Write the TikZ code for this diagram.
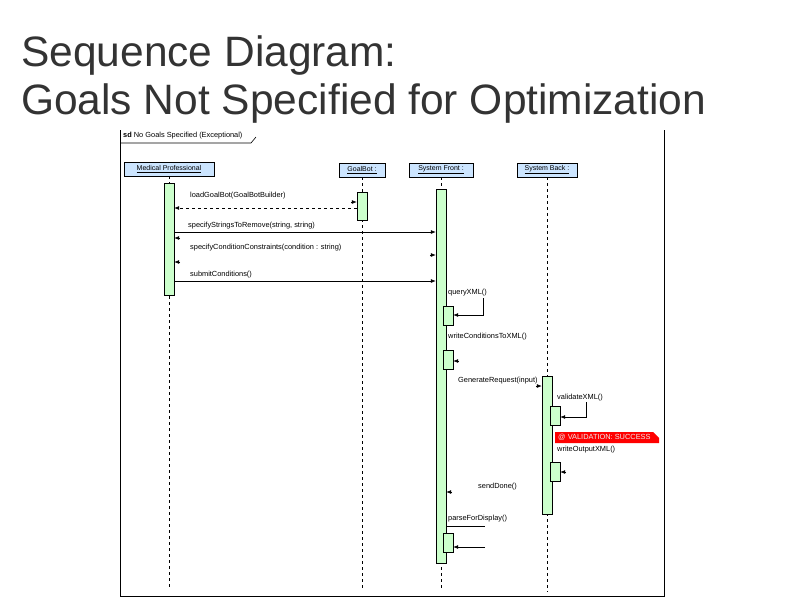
\documentclass[tikz,border=0pt]{standalone}
\usepackage{fontspec}
\setmainfont{Liberation Sans}
\usepackage{xcolor}
\usepackage{tikz}
\usetikzlibrary{positioning, calc, arrows.meta}
\definecolor{sqhead}{HTML}{CCE5FF}
\definecolor{sqbar}{HTML}{CCFFCC}
\definecolor{sqred}{HTML}{FF0000}
\definecolor{sqtitle}{HTML}{333333}

\begin{document}
\begin{tikzpicture}[x=1pt, y=-1pt,
    head/.style={rectangle, draw, fill=sqhead, font=\fontsize{7}{8}\selectfont,
          inner sep=0pt, minimum height=14pt},
    bar/.style={rectangle, draw, fill=sqbar, inner sep=0pt, minimum width=10pt},
    msglabel/.style={anchor=west, font=\fontsize{7.4}{8}\selectfont, inner sep=0pt},
    msg/.style={-{Latex[length=5pt,width=4pt]}, line width=0.7pt},
    reply/.style={msg, dashed},
    lifeline/.style={dashed, line width=0.6pt}]
  \useasboundingbox (0,0) rectangle (800,600);

  % title
  \node[anchor=base west, inner sep=0pt, text=sqtitle,
        font=\fontsize{42.5}{50}\selectfont] (title1) at (21,66) {Sequence Diagram:};
  \node[anchor=base west, inner sep=0pt, text=sqtitle,
        font=\fontsize{42.5}{50}\selectfont] (title2) at (21,114) {Goals Not Specified for Optimization};

  % frame
  \draw[line width=1pt] (120,130) -- (120,596) -- (664,596) -- (664,130);
  \node[msglabel] (sd) at (123,136) {\textbf{sd} No Goals Specified (Exceptional)};
  \draw[line width=0.6pt] (120,143) -- (251,143) -- (256,137);

  % lifeline heads
  \node[head, minimum width=90pt] (mp) at (169,169) {\underline{Medical Professional}};
  \node[head, minimum width=46pt] (gb) at (362,170) {\underline{GoalBot :}};
  \node[head, minimum width=64pt] (sf) at (441,170) {\underline{System Front :}};
  \node[head, minimum width=60pt] (sb) at (547,170) {\underline{System Back :}};

  \draw[lifeline] (mp.south) -- (mp.south |- 0,588);
  \draw[lifeline] (gb.south) -- (gb.south |- 0,588);
  \draw[lifeline] (sf.south) -- (sf.south |- 0,590);
  \draw[lifeline] (sb.south) -- (sb.south |- 0,592);

  % activations
  \node[bar, minimum height=112pt] (mpbar) at (169,239) {};
  \node[bar, minimum height=28pt] (gbbar) at (362,206) {};
  \node[bar, minimum height=374pt] (sfbar) at (441,376) {};
  \node[bar, minimum height=19pt] (sfq) at (448,315.5) {};
  \node[bar, minimum height=19pt] (sfw) at (448,359.5) {};
  \node[bar, minimum height=19pt] (sfp) at (448,542.5) {};
  \node[bar, minimum height=138pt] (sbbar) at (547,445) {};
  \node[bar, minimum height=19pt] (sbv) at (555,415.5) {};
  \node[bar, minimum height=19pt] (sbw) at (555,471.5) {};

  % messages
  \node[msglabel] (m1) at (190,196) {loadGoalBot(GoalBotBuilder)};
  \draw[reply] (gbbar.west |- 0,208) -- (mpbar.east |- 0,208);
  \draw[msg] ($(gbbar.west |- 0,202)+(-6,0)$) -- (gbbar.west |- 0,202);

  \node[msglabel] (m2) at (188,226) {specifyStringsToRemove(string, string)};
  \draw[msg] (mpbar.east |- 0,232) -- (sfbar.west |- 0,232);
  \draw[msg] ($(mpbar.east |- 0,238)+(6,0)$) -- (mpbar.east |- 0,238);

  \node[msglabel] (m3) at (190,248) {specifyConditionConstraints(condition : string)};
  \draw[msg] ($(sfbar.west |- 0,255)+(-6,0)$) -- (sfbar.west |- 0,255);
  \draw[msg] ($(mpbar.east |- 0,262)+(6,0)$) -- (mpbar.east |- 0,262);

  \node[msglabel] (m4) at (190,275) {submitConditions()};
  \draw[msg] (mpbar.east |- 0,281) -- (sfbar.west |- 0,281);

  \node[msglabel] (m5) at (448,293) {queryXML()};
  \draw[msg] (483,298) -- (483,315) -- (sfq.east |- 0,315);

  \node[msglabel] (m6) at (448,337) {writeConditionsToXML()};
  \draw[msg] ($(sfw.east |- 0,361)+(6,0)$) -- (sfw.east |- 0,361);

  \node[msglabel] (m7) at (458,381) {GenerateRequest(input)};
  \draw[msg] ($(sbbar.west |- 0,386)+(-6,0)$) -- (sbbar.west |- 0,386);

  \node[msglabel] (m8) at (557,398) {validateXML()};
  \draw[msg] (586,402) -- (586,417) -- (sbv.east |- 0,417);

  \fill[sqred] (555,432) -- (653,432) -- (659,438) -- (659,443) -- (555,443) -- cycle;
  \node[msglabel, text=white!85!gray] (note) at (558,437.5) {@ VALIDATION: SUCCESS};

  \node[msglabel] (m9) at (557,450) {writeOutputXML()};
  \draw[msg] ($(sbw.east |- 0,472)+(6,0)$) -- (sbw.east |- 0,472);

  \node[msglabel] (m10) at (478,487) {sendDone()};
  \draw[msg] ($(sfbar.east |- 0,492)+(6,0)$) -- (sfbar.east |- 0,492);

  \node[msglabel] (m11) at (448,519) {parseForDisplay()};
  \draw[line width=0.7pt] (sfbar.east |- 0,526) -- (485,526);
  \draw[msg] (485,547) -- (sfp.east |- 0,547);
\end{tikzpicture}
\end{document}
